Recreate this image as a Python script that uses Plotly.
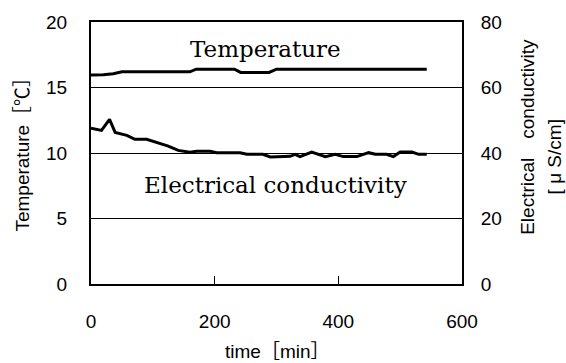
import plotly.graph_objects as go

# ---- data ----
temp_time = [0, 20, 36, 50, 160, 170, 232, 242, 288, 300, 543]
temp_vals = [15.95, 15.97, 16.05, 16.2, 16.2, 16.4, 16.4, 16.15, 16.15, 16.4, 16.4]

ec_time = [0, 17, 30, 39, 58, 71, 90, 112, 125, 141, 160, 171, 193, 203, 241, 252,
           278, 290, 306, 322, 330, 338, 357, 379, 395, 408, 430, 449, 460, 478,
           489, 500, 519, 530, 543]
ec_vals = [47.6, 46.9, 50.3, 46.3, 45.4, 44.2, 44.2, 42.8, 42.1, 40.8, 40.2, 40.5,
           40.5, 40.1, 40.1, 39.6, 39.6, 38.8, 39.0, 39.0, 39.6, 38.9, 40.3, 38.9,
           39.6, 38.9, 38.9, 40.1, 39.6, 39.6, 38.9, 40.3, 40.3, 39.6, 39.6]

x_ticks = [0, 200, 400, 600]
y_ticks = [0, 5, 10, 15, 20]
y2_ticks = [0, 20, 40, 60, 80]

SANS = "Liberation Sans, Arial, Noto Sans CJK JP, sans-serif"
SERIF = "DejaVu Serif, serif"

fig = go.Figure()
fig.add_trace(go.Scatter(x=temp_time, y=temp_vals, mode="lines",
                         line=dict(color="black", width=3), yaxis="y",
                         showlegend=False))
fig.add_trace(go.Scatter(x=ec_time, y=ec_vals, mode="lines",
                         line=dict(color="black", width=3), yaxis="y2",
                         showlegend=False))

L, R, T, B = 91, 104, 17, 79
W, H = 566, 363
pw, ph = W - L - R, H - T - B


def px(x):
    return (x - L) / pw


def py(y):
    return (H - B - y) / ph


fig.update_layout(
    width=W, height=H,
    margin=dict(l=L, r=R, t=T, b=B, pad=0),
    paper_bgcolor="white", plot_bgcolor="white",
    font=dict(family=SANS, size=19, color="black"),
    xaxis=dict(range=[0, 600], tickvals=x_ticks, ticks="inside", ticklen=8,
               tickwidth=1, tickcolor="black", showline=True, linecolor="black",
               linewidth=2, mirror=True, showgrid=False, zeroline=False,
               ticklabelstandoff=19, tickfont=dict(size=19)),
    yaxis=dict(range=[0, 20], tickvals=y_ticks, ticks="", showline=True,
               linecolor="black", linewidth=2, showgrid=True, gridcolor="black",
               gridwidth=0.8, zeroline=False, ticklabelstandoff=18,
               tickfont=dict(size=19)),
    yaxis2=dict(range=[0, 80], tickvals=y2_ticks, ticks="", overlaying="y",
                side="right", showline=True, linecolor="black", linewidth=2,
                showgrid=False, zeroline=False, ticklabelstandoff=13,
                tickfont=dict(size=19)),
)

ann = [
    dict(text="Temperature", x=px(265), y=py(45), font=dict(family=SERIF, size=23)),
    dict(text="Electrical conductivity", x=px(275.5), y=py(183),
         font=dict(family=SERIF, size=23)),
    dict(text="Temperature［℃］", x=px(23), y=py(147), textangle=-90,
         font=dict(family=SANS, size=19)),
    dict(text="Electrical　conductivity", x=px(528), y=py(134), textangle=-90,
         font=dict(family=SANS, size=19)),
    dict(text="[ μ S/cm]", x=px(554), y=py(155), textangle=-90,
         font=dict(family=SANS, size=19)),
    dict(text="time［min］", x=px(277), y=py(353), font=dict(family=SANS, size=19)),
]
for a in ann:
    fig.add_annotation(xref="paper", yref="paper", showarrow=False,
                       xanchor="center", yanchor="middle", **a)

fig.write_html("out.html")
